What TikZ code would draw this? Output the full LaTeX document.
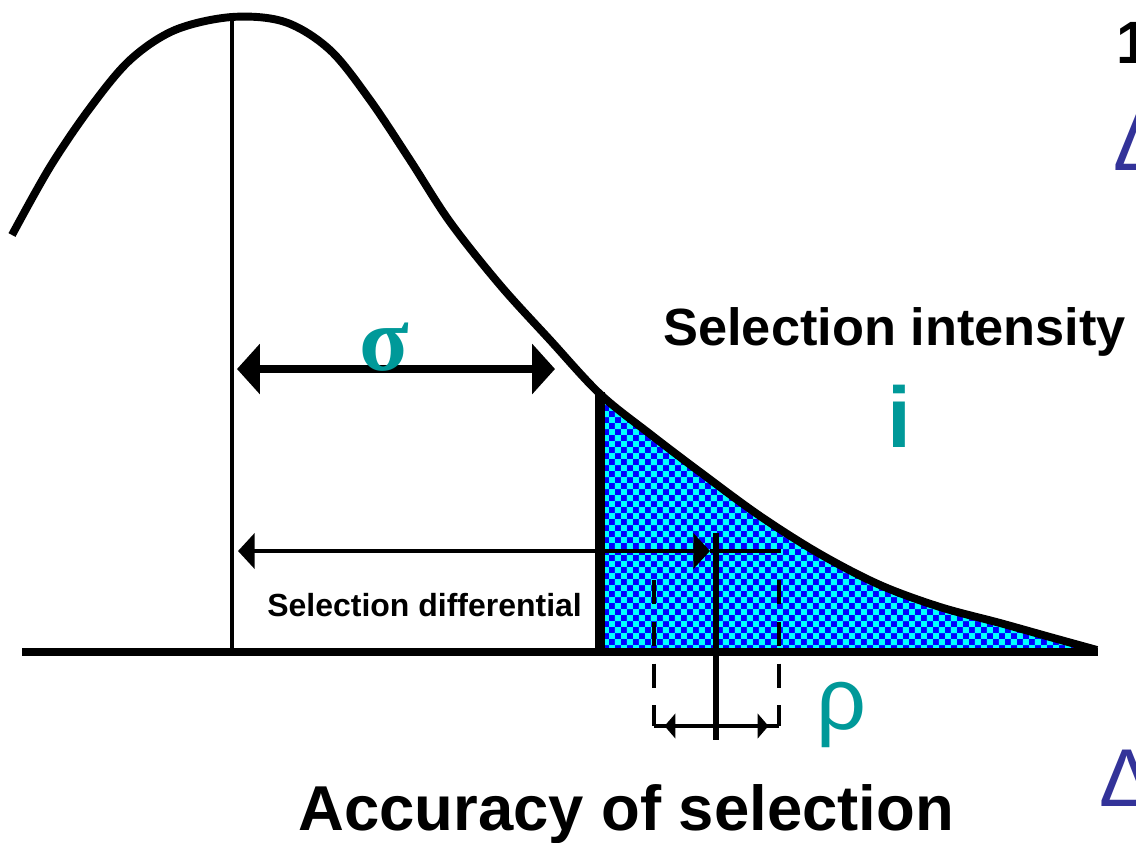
\documentclass[tikz,border=0pt]{standalone}
\usepackage{fontspec}
\setmainfont{Liberation Sans}
\newfontfamily\griechisch{Liberation Serif}
\usetikzlibrary{arrows.meta,patterns}
\definecolor{petrol}{HTML}{009999}
\definecolor{deltablau}{HTML}{333399}
% Karomuster fuer die selektierte Flaeche
\pgfdeclarepatternformonly{karo}{\pgfpointorigin}{\pgfqpoint{6.8pt}{6.8pt}}{\pgfqpoint{6.8pt}{6.8pt}}{%
  \pgfpathrectangle{\pgfpointorigin}{\pgfqpoint{3.4pt}{3.4pt}}%
  \pgfpathrectangle{\pgfqpoint{3.4pt}{3.4pt}}{\pgfqpoint{3.4pt}{3.4pt}}%
  \pgfusepath{fill}}
\newcommand\glockenkurve{plot[smooth, tension=0.55] coordinates {
  (12,235) (50,167) (90,108) (130,60) (175,30) (232,17) (285,22) (330,50)
  (370,100) (410,160) (450,222) (500,285) (550,340) (600,394) (650,434)
  (700,472) (760,516) (820,554) (880,585) (940,607) (1000,623) (1050,637)
  (1097,650)}}

\begin{document}
\begin{tikzpicture}[x=0.02cm, y=-0.02cm,
  kurve/.style={line width=4.5pt, line join=round},
  sigmapfeil/.style={line width=4.5pt,
    {Triangle[length=13pt,width=28pt]}-{Triangle[length=13pt,width=28pt]}},
  diffpfeil/.style={line width=2.8pt, {Triangle[length=9.5pt,width=20pt]}-},
  diffspitze/.style={line width=2.8pt, -{Triangle[length=9.5pt,width=20pt]}},
  klammerpfeil/.style={line width=2.3pt,
    {Triangle[length=6.2pt,width=14pt]}-{Triangle[length=6.2pt,width=14pt]},
    shorten <=6pt, shorten >=6pt},
  gestrichelt/.style={line width=2.8pt, dash pattern=on 13.6pt off 10.2pt},
  beschriftung/.style={inner sep=0pt, font=\bfseries\fontsize{#1}{#1}\selectfont},
  griechtext/.style={inner sep=0pt, text=petrol, font=\griechisch\bfseries\fontsize{#1}{#1}\selectfont}]
  \useasboundingbox (0,0) rectangle (1136,842);

  % Selektierte Flaeche
  \begin{scope}
    \clip (600,0) rectangle (1136,654);
    \fill[blue] \glockenkurve -- (1097,654) -- (12,654) -- cycle;
    \fill[pattern=karo, pattern color=cyan] \glockenkurve -- (1097,654) -- (12,654) -- cycle;
  \end{scope}

  % Punkte
  \coordinate (achselinks) at (22,652);
  \coordinate (achserechts) at (1098,652);
  \coordinate (mitte) at (232,15);
  \coordinate (mittefuss) at (232,652);
  \coordinate (grenze) at (600,392);
  \coordinate (grenzefuss) at (600,652);
  \coordinate (sigmalinks) at (237,369);
  \coordinate (sigmarechts) at (555,369);
  \coordinate (difflinks) at (238,551);
  \coordinate (diffgrenze) at (600,551);
  \coordinate (diffspitze) at (710,551);
  \coordinate (diffende) at (781,551);
  \coordinate (mittelwert) at (716,533);
  \coordinate (mittelwertfuss) at (716,740);
  \coordinate (streulinks) at (654,580);
  \coordinate (streurechts) at (779,580);
  \coordinate (klammerlinks) at (654,726);
  \coordinate (klammerrechts) at (779,726);

  % Achse und Kurve
  \draw[line width=4pt] (achselinks) -- (achserechts);
  \draw[kurve] \glockenkurve;
  \draw[line width=2.8pt] (mitte) -- (mittefuss);
  \draw[line width=6.2pt] (grenze) -- (grenzefuss);

  % Pfeile
  \draw[sigmapfeil] (sigmalinks) -- (sigmarechts);
  \draw[diffpfeil] (difflinks) -- (diffgrenze);
  \draw[diffspitze] (diffgrenze) -- (diffspitze);
  \draw[line width=2.8pt] (diffspitze) -- (diffende);
  \draw[line width=3.4pt] (mittelwert) -- (mittelwertfuss);
  \draw[gestrichelt] (streulinks) -- (klammerlinks);
  \draw[gestrichelt] (streurechts) -- (klammerrechts);
  \draw[line width=2.3pt] (klammerlinks) -- (klammerrechts);
  \draw[klammerpfeil] (klammerlinks) -- (klammerrechts);

  % Beschriftungen
  \node[griechtext=52pt, anchor=base] (sigma) at (384,370) {σ};
  \node[beschriftung=29.8pt, anchor=base west] (intensitaet) at (663,345) {Selection intensity};
  \node[beschriftung=49pt, text=petrol, anchor=base] (ifaktor) at (899,447) {i};
  \node[beschriftung=18.2pt, anchor=base west] (differential) at (267,616) {Selection differential};
  \node[inner sep=0pt, text=petrol, font=\fontsize{50pt}{50pt}\selectfont, anchor=base] (rho) at (841,729) {ρ};
  \node[beschriftung=36.1pt, anchor=base west] (genauigkeit) at (298,830) {Accuracy of selection};
  \node[beschriftung=34pt, anchor=base west] (eins) at (1116,63) {1};
  \node[inner sep=0pt, text=deltablau, font=\fontsize{46.7pt}{46.7pt}\selectfont, anchor=base west] (deltaoben) at (1113,170) {Δ};
  \node[inner sep=0pt, text=deltablau, font=\fontsize{46.7pt}{46.7pt}\selectfont, anchor=base west] (deltaunten) at (1099,806) {Δ};
\end{tikzpicture}
\end{document}
